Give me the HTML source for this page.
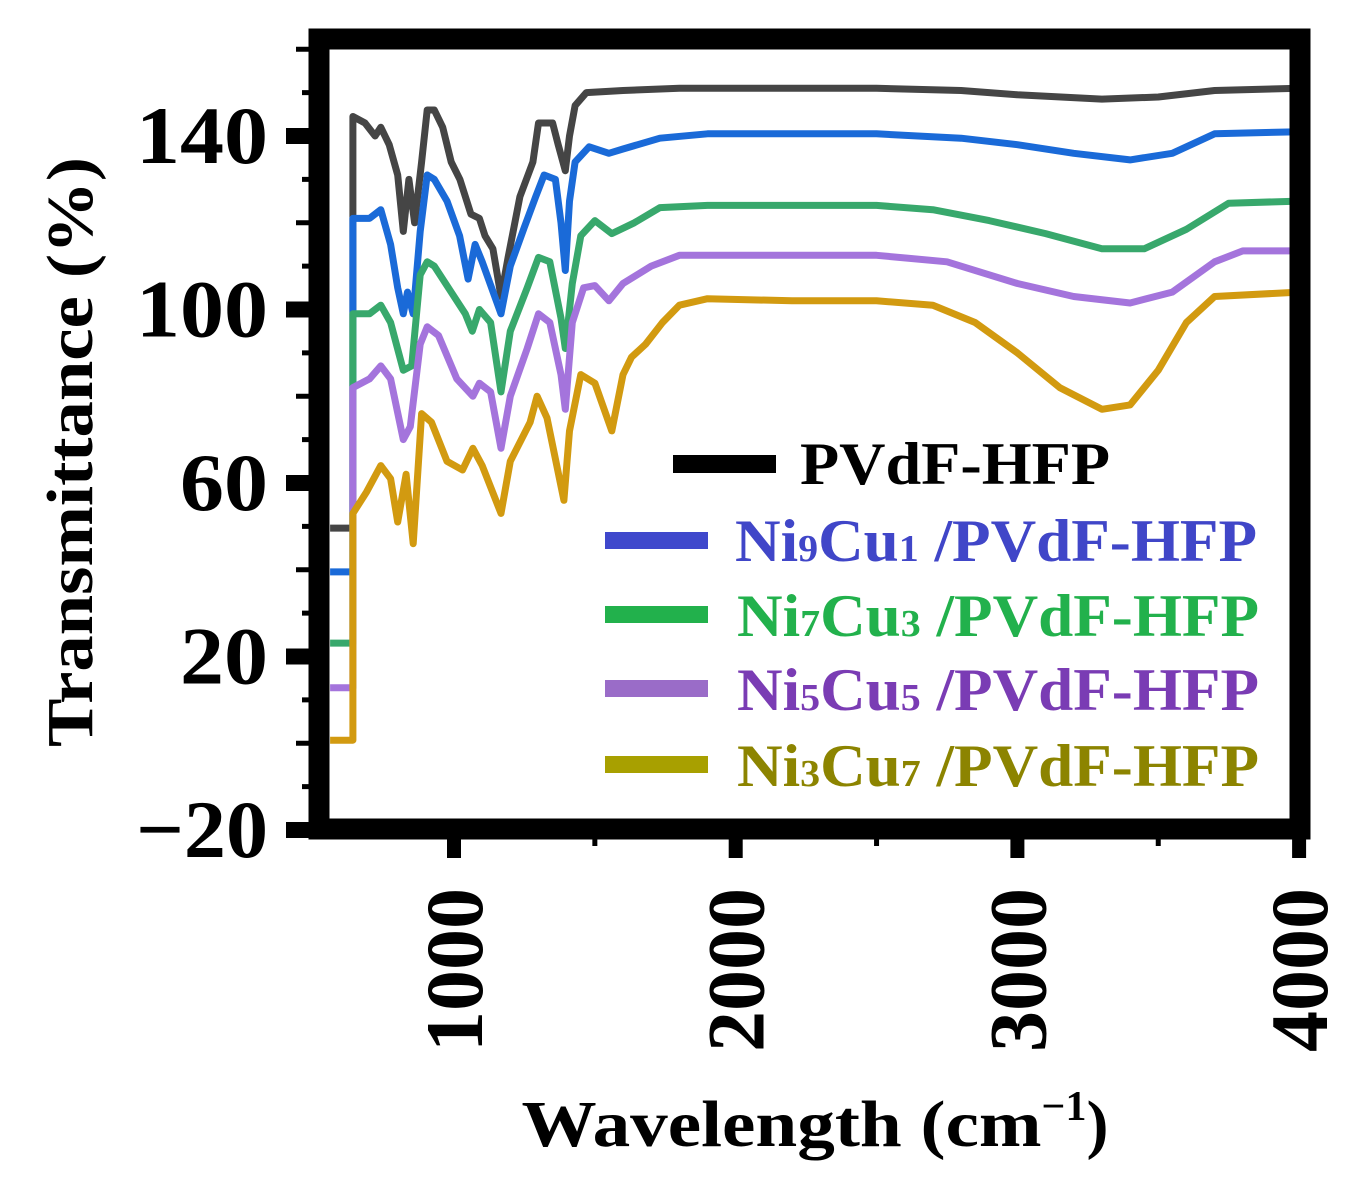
<!DOCTYPE html>
<html><head><meta charset="utf-8"><style>
html,body{margin:0;padding:0;background:#fff;}
svg{display:block;}
text{font-family:"Liberation Serif",serif;font-weight:bold;}
</style></head><body>
<svg id="chart" width="1346" height="1179" viewBox="0 0 1346 1179" xmlns="http://www.w3.org/2000/svg">
<g id="series"></g>
<rect x="319" y="39" width="981" height="790" fill="none" stroke="#000" stroke-width="21"/>
<g id="axes"></g>
<text x="92" y="452" font-size="66" text-anchor="middle" transform="rotate(-90 92 452)" textLength="590" lengthAdjust="spacingAndGlyphs">Transmittance (%)</text>
<text x="815" y="1146" font-size="66" text-anchor="middle"><tspan textLength="520" lengthAdjust="spacingAndGlyphs">Wavelength (cm</tspan><tspan font-size="42" dy="-26">−1</tspan><tspan dy="26">)</tspan></text>
<g>
<rect x="673" y="455" width="103" height="18" fill="#000"/>
<text x="800" y="484" font-size="60" fill="#000" textLength="310" lengthAdjust="spacingAndGlyphs">PVdF-HFP</text>
<rect x="605" y="532" width="103" height="17" fill="#3f48cc"/>
<text x="735" y="561" font-size="60" fill="#4046c8" textLength="522" lengthAdjust="spacingAndGlyphs">Ni<tspan font-size="38">9</tspan>Cu<tspan font-size="38">1</tspan> /PVdF-HFP</text>
<rect x="605" y="606" width="103" height="17" fill="#22b14c"/>
<text x="737" y="636" font-size="60" fill="#22b14c" textLength="522" lengthAdjust="spacingAndGlyphs">Ni<tspan font-size="38">7</tspan>Cu<tspan font-size="38">3</tspan> /PVdF-HFP</text>
<rect x="605" y="680" width="103" height="17" fill="#9a6cc8"/>
<text x="737" y="710" font-size="60" fill="#7a3cb4" textLength="522" lengthAdjust="spacingAndGlyphs">Ni<tspan font-size="38">5</tspan>Cu<tspan font-size="38">5</tspan> /PVdF-HFP</text>
<rect x="605" y="756" width="103" height="17" fill="#a8a000"/>
<text x="737" y="786" font-size="60" fill="#8c8400" textLength="522" lengthAdjust="spacingAndGlyphs">Ni<tspan font-size="38">3</tspan>Cu<tspan font-size="38">7</tspan> /PVdF-HFP</text>
</g>
</svg>
<script>
const yTicks = [-20, 20, 60, 100, 140];
const yTickLabels = ["\u221220", "20", "60", "100", "140"];
const xTicks = [1000, 2000, 3000, 4000];
const xTickLabels = ["1000", "2000", "3000", "4000"];
const seriesNames = ["PVdF-HFP", "Ni9Cu1/PVdF-HFP", "Ni7Cu3/PVdF-HFP", "Ni5Cu5/PVdF-HFP", "Ni3Cu7/PVdF-HFP"];
const wnBlack = [560,641,641,684,720,740,770,800,820,840,860,885,905,930,960,990,1021,1060,1090,1110,1138,1167,1192,1234,1280,1300,1350,1370,1395,1410,1430,1470,1600,1800,2000,2500,2800,3000,3300,3500,3700,4000];
const tBlack = [49.6,49.6,144.5,143,140,142,138,131,118,130,120,134,146,146,142,134,130,122,121,117,114,103,112,126,134,143,143,138,132,140,147,150,150.5,151,151,151,150.5,149.5,148.5,149,150.5,151];
const wnBlue = [560,641,641,700,740,775,800,820,835,855,880,905,930,975,1020,1050,1075,1100,1167,1200,1250,1290,1320,1360,1380,1395,1410,1430,1480,1550,1600,1731,1900,2500,2800,3000,3200,3400,3550,3700,4000];
const tBlue = [39.5,39.5,121,121,123,115,105,99,104,99,118,131,130,125,117,107,115,111,99,110,119,126,131,130,120,109,125,134,137.5,136,137,139.5,140.5,140.5,139.5,138,136,134.5,136,140.5,141];
const wnGreen = [560,641,641,700,740,775,820,850,880,905,930,990,1040,1065,1090,1130,1167,1200,1260,1300,1340,1380,1395,1420,1450,1500,1560,1640,1731,1900,2500,2700,2900,3100,3300,3450,3600,3750,4000];
const tGreen = [23.1,23.1,99,99,101,97,86,87,108,111,110,104,99,95,100,97,81,95,105,112,111,98,91,106,117,120.5,117.5,120,123.5,124,124,123,120.5,117.5,114,114,118.5,124.5,125];
const wnPurple = [560,641,641,700,740,775,820,845,880,905,945,1010,1067,1090,1130,1167,1200,1260,1300,1340,1380,1395,1420,1460,1500,1550,1600,1700,1800,2500,2750,3000,3200,3400,3550,3700,3800,4000];
const tPurple = [12.8,12.8,82,84,87,84,70,73,92,96,94,84,80,83,81,68,80,91,99,97,85,77,97,105,105.5,102,106,110,112.5,112.5,111,106,103,101.5,104,111,113.5,113.5];
const wnGold = [560,641,641,690,740,775,800,830,855,885,920,975,1030,1067,1100,1167,1200,1270,1295,1330,1390,1410,1450,1500,1560,1600,1630,1680,1740,1800,1900,2200,2500,2700,2850,3000,3150,3300,3400,3500,3600,3700,4000];
const tGold = [0.7,0.7,53,58,64,61,51,62,46,76,74,65,63,68,64,53,65,74,80,75,56,72,85,83,72,85,89,92,97,101,102.5,102,102,101,97,90,82,77,78,86,97,103,104];

const NS = "http://www.w3.org/2000/svg";
function xScale(v){ return 454 + (v - 1000) * 0.2817; }
function yScale(v){ return 830 - (v + 20) * 4.3375; }

const seriesG = document.getElementById("series");
const allSeries = [
  [wnBlack, tBlack, "#454545", "series-pvdf-hfp"],
  [wnBlue, tBlue, "#1a6ad8", "series-ni9cu1"],
  [wnGreen, tGreen, "#38a86c", "series-ni7cu3"],
  [wnPurple, tPurple, "#a474dc", "series-ni5cu5"],
  [wnGold, tGold, "#d29a10", "series-ni3cu7"]
];
allSeries.forEach(function(s){
  let d = "";
  for (let i = 0; i < s[0].length; i++) {
    d += (i ? "L" : "M") + xScale(s[0][i]).toFixed(1) + "," + yScale(s[1][i]).toFixed(1);
  }
  const p = document.createElementNS(NS, "path");
  p.setAttribute("d", d);
  p.setAttribute("fill", "none");
  p.setAttribute("stroke", s[2]);
  p.setAttribute("stroke-width", "7");
  p.setAttribute("stroke-linejoin", "round");
  
  
  seriesG.appendChild(p);
});

const axes = document.getElementById("axes");
function addLine(x1,y1,x2,y2,w,name){
  const l = document.createElementNS(NS, "line");
  l.setAttribute("x1",x1); l.setAttribute("y1",y1); l.setAttribute("x2",x2); l.setAttribute("y2",y2);
  l.setAttribute("stroke","#000"); l.setAttribute("stroke-width",w);
  
  
  axes.appendChild(l);
}
for (let v = -20; v <= 160; v += 10) {
  const y = yScale(v);
  if (y < 45) continue;
  const major = (v + 20) % 40 === 0;
  const medium = !major && (v % 20 === 0);
  addLine(major ? 286 : (medium ? 296 : 302), y, 310, y, major ? 16 : 5, "y-tick");
}
yTicks.forEach(function(v, i){
  const t = document.createElementNS(NS, "text");
  t.setAttribute("x", 268);
  t.setAttribute("y", yScale(v) + 27);
  t.setAttribute("font-size", "82");
  t.setAttribute("text-anchor", "end");
  t.setAttribute("textLength", yTickLabels[i].length * 44);
  t.setAttribute("lengthAdjust", "spacingAndGlyphs");
  t.textContent = yTickLabels[i];
  
  
  axes.appendChild(t);
});
for (let v = 1000; v <= 4000; v += 500) {
  const x = xScale(v);
  const major = v % 1000 === 0;
  addLine(x, 838, x, major ? 858 : 846, major ? 14 : 5, "x-tick");
}
xTicks.forEach(function(v, i){
  const x = xScale(v) + 28;
  const t = document.createElementNS(NS, "text");
  t.setAttribute("x", x);
  t.setAttribute("y", 970);
  t.setAttribute("font-size", "82");
  t.setAttribute("text-anchor", "middle");
  t.setAttribute("transform", "rotate(-90 " + x + " 970)");
  t.textContent = xTickLabels[i];
  
  
  axes.appendChild(t);
});
</script>
</body></html>
